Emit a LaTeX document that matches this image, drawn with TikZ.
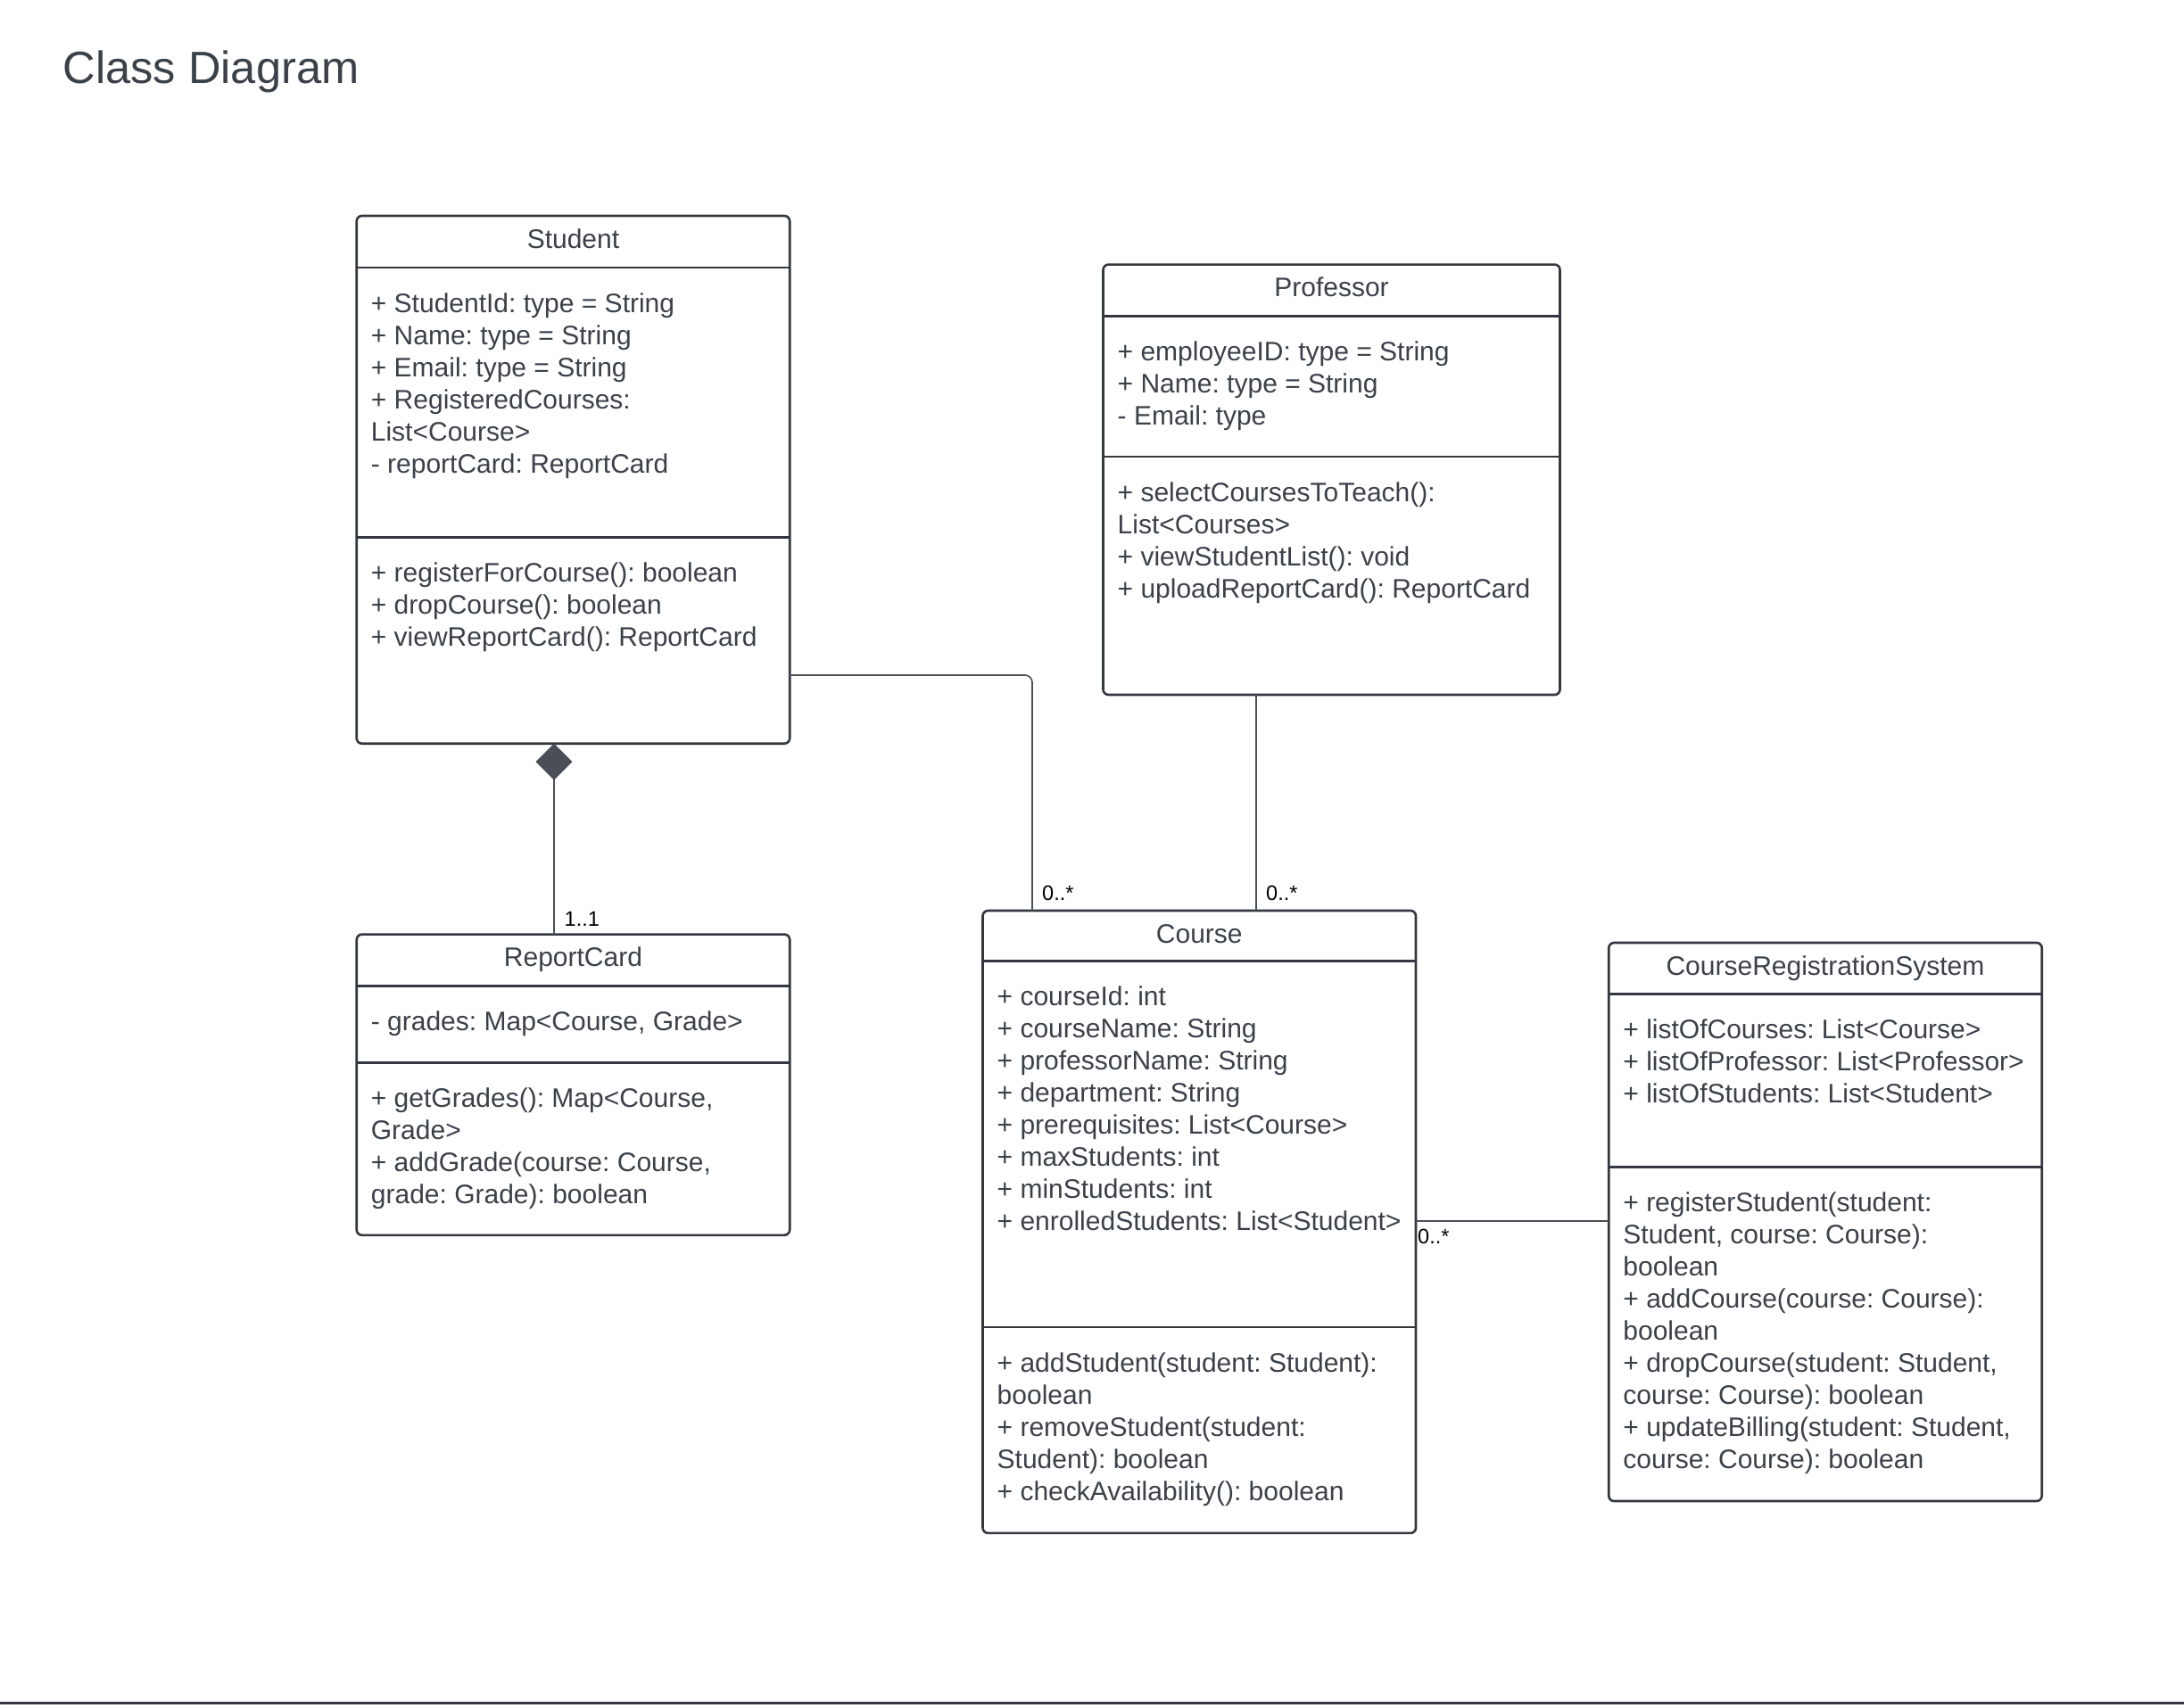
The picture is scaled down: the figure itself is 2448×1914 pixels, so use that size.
\documentclass[tikz,border=0pt]{standalone}
\usepackage{fontspec}
\setmainfont{Liberation Sans}
\usetikzlibrary{arrows.meta}
\frenchspacing

\definecolor{ink}{HTML}{3B4149}
\definecolor{frame}{HTML}{33383F}
\definecolor{wire}{HTML}{4A4F57}

\begin{document}
\begin{tikzpicture}[x=1pt,y=-1pt,
  classbox/.style={draw=frame, line width=2.6pt, rounded corners=6pt, outer sep=0pt,
                   inner sep=0pt, fill=white, anchor=north west},
  divider/.style={draw=frame, line width=2.6pt},
  classname/.style={font=\fontsize{30}{36}\selectfont, text=ink, inner sep=0pt, anchor=base},
  members/.style={font=\fontsize{30}{36}\selectfont, text=ink, inner sep=0pt,
                  anchor=north west, align=left},
  link/.style={draw=wire, line width=1.6pt},
  mult/.style={font=\fontsize{23.5}{28}\selectfont, text=black, inner sep=0pt, anchor=base west},
]
\useasboundingbox (0,0) rectangle (2448,1914);

% heading
\node[font=\fontsize{50.6}{60}\selectfont, text=ink, inner sep=0pt, anchor=base west]
  (heading) at (70.5,93.3) {Class Diagram};

% ---------------- Student ----------------
\node[classbox, minimum width=485.5pt, minimum height=591.7pt] (student) at (399.7,242) {};
\draw[divider] (399.7,299.8) -- (885.2,299.8);
\draw[divider] (399.7,602.6) -- (885.2,602.6);
\node[classname] (student-name) at (642.45,278) {Student};
\node[members] (student-attr) at (415.7,324.6) {\strut+ StudentId: type = String\\
  + Name: type = String\\
  + Email: type = String\\
  + RegisteredCourses:\\
  List<Course>\\
  - reportCard: ReportCard};
\node[members] (student-ops) at (415.7,627.4) {\strut+ registerForCourse(): boolean\\
  + dropCourse(): boolean\\
  + viewReportCard(): ReportCard};

% ---------------- Professor ----------------
\node[classbox, minimum width=512pt, minimum height=482.4pt] (prof) at (1236.5,296.6) {};
\draw[divider] (1236.5,354.4) -- (1748.5,354.4);
\draw[divider] (1236.5,512) -- (1748.5,512);
\node[classname] (prof-name) at (1492.5,332.6) {Professor};
\node[members] (prof-attr) at (1252.5,379.2) {\strut+ employeeID: type = String\\
  + Name: type = String\\
  - Email: type};
\node[members] (prof-ops) at (1252.5,536.8) {\strut+ selectCoursesToTeach():\\
  List<Courses>\\
  + viewStudentList(): void\\
  + uploadReportCard(): ReportCard};

% ---------------- ReportCard ----------------
\node[classbox, minimum width=485.5pt, minimum height=337.2pt] (report) at (399.7,1047.6) {};
\draw[divider] (399.7,1105.3) -- (885.2,1105.3);
\draw[divider] (399.7,1191.2) -- (885.2,1191.2);
\node[classname] (report-name) at (642.45,1083.6) {ReportCard};
\node[members] (report-attr) at (415.7,1130.1) {\strut- grades: Map<Course, Grade>};
\node[members] (report-ops) at (415.7,1216) {\strut+ getGrades(): Map<Course,\\
  Grade>\\
  + addGrade(course: Course,\\
  grade: Grade): boolean};

% ---------------- Course ----------------
\node[classbox, minimum width=485.5pt, minimum height=697.9pt] (course) at (1101.5,1021) {};
\draw[divider] (1101.5,1077.5) -- (1587,1077.5);
\draw[divider] (1101.5,1487.8) -- (1587,1487.8);
\node[classname] (course-name) at (1344.25,1057) {Course};
\node[members] (course-attr) at (1117.5,1102.3) {\strut+ courseId: int\\
  + courseName: String\\
  + professorName: String\\
  + department: String\\
  + prerequisites: List<Course>\\
  + maxStudents: int\\
  + minStudents: int\\
  + enrolledStudents: List<Student>};
\node[members] (course-ops) at (1117.5,1512.6) {\strut+ addStudent(student: Student):\\
  boolean\\
  + removeStudent(student:\\
  Student): boolean\\
  + checkAvailability(): boolean};

% ---------------- CourseRegistrationSystem ----------------
\node[classbox, minimum width=485.5pt, minimum height=626pt] (crs) at (1803.2,1057) {};
\draw[divider] (1803.2,1114.7) -- (2288.7,1114.7);
\draw[divider] (1803.2,1308.3) -- (2288.7,1308.3);
\node[classname] (crs-name) at (2045.95,1093) {CourseRegistrationSystem};
\node[members] (crs-attr) at (1819.2,1139.5) {\strut+ listOfCourses: List<Course>\\
  + listOfProfessor: List<Professor>\\
  + listOfStudents: List<Student>};
\node[members] (crs-ops) at (1819.2,1333.1) {\strut+ registerStudent(student:\\
  Student, course: Course):\\
  boolean\\
  + addCourse(course: Course):\\
  boolean\\
  + dropCourse(student: Student,\\
  course: Course): boolean\\
  + updateBilling(student: Student,\\
  course: Course): boolean};

% ---------------- connectors ----------------
\coordinate (compx) at (621,0);
\coordinate (elbow) at (1157,757);
\coordinate (profx) at (1408,0);
\coordinate (crsy) at (0,1369);

\draw[link, arrows={Diamond[length=41pt,width=41pt]-}]
  (student.south -| compx) -- (report.north -| compx);
\draw[link, rounded corners=8pt] (student.east |- elbow) -| (course.north -| elbow);
\draw[link] (prof.south -| profx) -- (course.north -| profx);
\draw[link] (course.east |- crsy) -- (crs.west |- crsy);

% multiplicities
\node[mult] (m-report) at (632.5,1038) {1..1};
\node[mult] (m-student) at (1168,1009.5) {0..*};
\node[mult] (m-prof) at (1419,1009.5) {0..*};
\node[mult] (m-crs) at (1589,1394) {0..*};

% page rule
\draw[draw=frame, line width=3pt] (0,1909) -- (2448,1909);
\end{tikzpicture}
\end{document}
